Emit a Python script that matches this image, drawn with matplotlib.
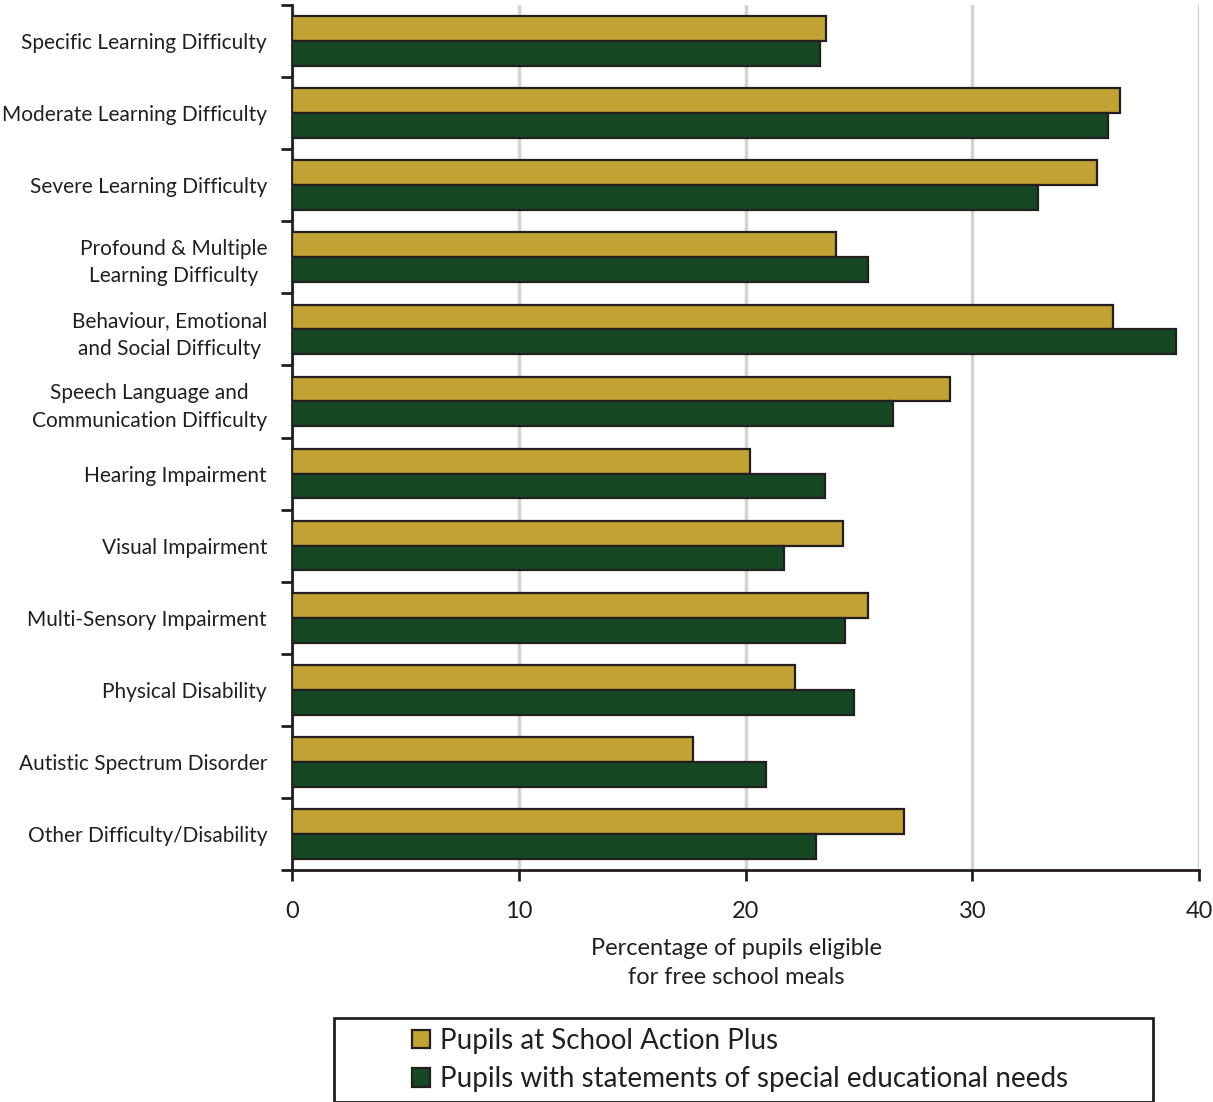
import numpy as np
import matplotlib
matplotlib.use('Agg')
import matplotlib.pyplot as plt
from matplotlib.patches import Rectangle

# data
categories = ['Specific Learning Difficulty', 'Moderate Learning Difficulty',
              'Severe Learning Difficulty', 'Profound & Multiple\nLearning Difficulty',
              'Behaviour, Emotional\nand Social Difficulty', 'Speech Language and\nCommunication Difficulty',
              'Hearing Impairment', 'Visual Impairment', 'Multi-Sensory Impairment',
              'Physical Disability', 'Autistic Spectrum Disorder', 'Other Difficulty/Disability']
action_plus = [23.55, 36.5, 35.5, 24.0, 36.2, 29.0, 20.2, 24.3, 25.4, 22.2, 17.7, 27.0]
statements = [23.3, 36.0, 32.9, 25.4, 39.0, 26.5, 23.5, 21.7, 24.4, 24.8, 20.9, 23.1]
series_names = ['Pupils at School Action Plus', 'Pupils with statements of special educational needs']
xticks = [0, 10, 20, 30, 40]

plt.rcParams['font.family'] = ['Lato', 'DejaVu Sans']
ink = '#231f20'
gold = '#c2a232'
green = '#164824'

fig = plt.figure(figsize=(12.13, 11.02), dpi=100)
ax = fig.add_axes([292/1213, 1 - 870/1102, (1199 - 292)/1213, (870 - 5)/1102])

y = np.arange(len(categories))
h = 0.345
b1 = ax.barh(y - h/2, action_plus, height=h, color=gold, edgecolor=ink, linewidth=1.6, zorder=3)
b2 = ax.barh(y + h/2, statements, height=h, color=green, edgecolor=ink, linewidth=1.6, zorder=3)

ax.set_xlim(0, 40)
ax.set_ylim(len(categories) - 0.5, -0.5)
ax.set_xticks(xticks)
ax.set_xticklabels([str(t) for t in xticks], fontsize=17, color=ink)
ax.tick_params(axis='x', length=8, width=2, color=ink, pad=14)

# boundary ticks on y, labels on minor ticks at the centres
ax.set_yticks(np.arange(-0.5, len(categories), 1.0))
ax.set_yticklabels([])
ax.set_yticks(y, minor=True)
ax.set_yticklabels(categories, minor=True, fontsize=15, color=ink,
                   multialignment='center', linespacing=1.45)
ax.tick_params(axis='y', which='major', length=8, width=2, color=ink)
ax.tick_params(axis='y', which='minor', length=0, pad=18)

ax.xaxis.grid(True, color='#d4d4d4', linewidth=2.5, zorder=0)
ax.set_axisbelow(True)
for s in ['top', 'right']:
    ax.spines[s].set_visible(False)
for s in ['left', 'bottom']:
    ax.spines[s].set_color(ink)
    ax.spines[s].set_linewidth(2)

ax.set_xlabel('Percentage of pupils eligible\nfor free school meals', fontsize=17, color=ink,
              linespacing=1.45)
ax.xaxis.set_label_coords(0.49, -0.079)

# legend box
fig.patches.append(Rectangle((334/1213, 0.0), (1153 - 334)/1213, 84/1102, transform=fig.transFigure,
                             fill=False, edgecolor=ink, linewidth=2))
fig.legend([b1, b2], series_names, loc='center', bbox_to_anchor=(740/1213, 1 - 1060/1102),
           frameon=False, fontsize=20, handlelength=0.65, handleheight=0.65, handletextpad=0.35,
           labelspacing=0.45, labelcolor=ink)

fig.savefig('out.png', dpi=100)
